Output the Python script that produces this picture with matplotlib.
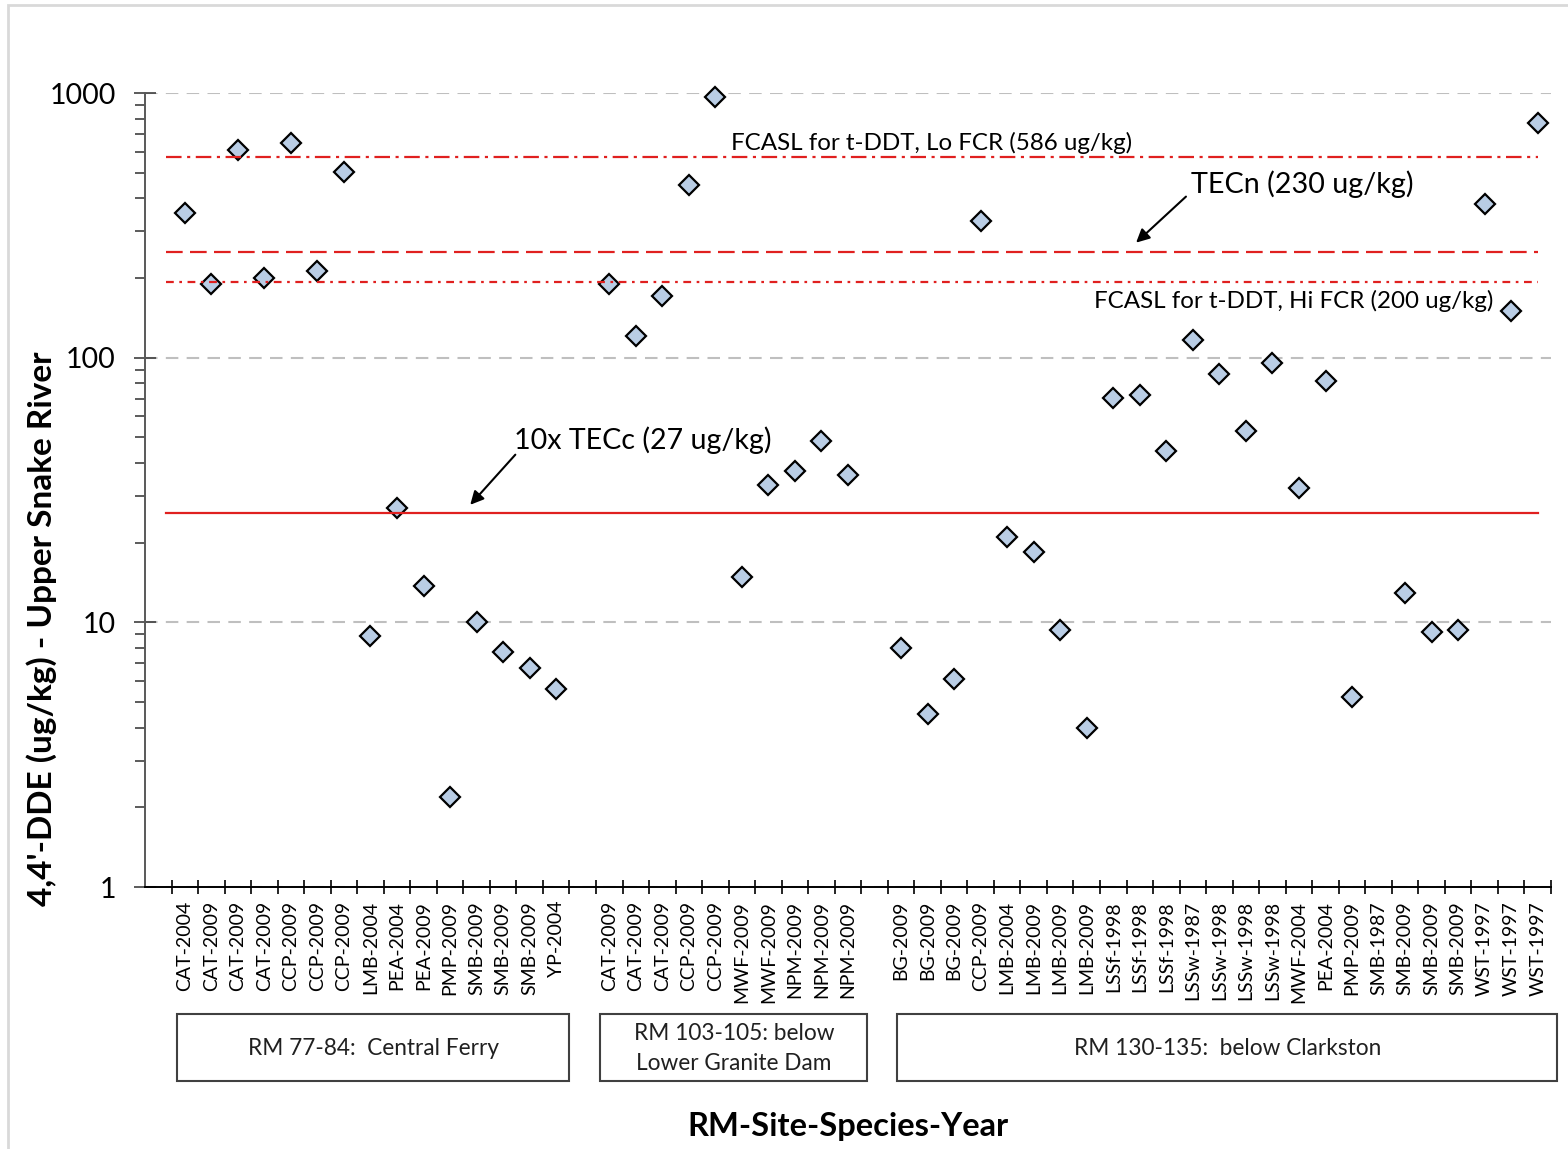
import numpy as np
import matplotlib.pyplot as plt
from matplotlib.patches import Rectangle
from matplotlib.ticker import FixedLocator, NullFormatter

plt.rcParams['font.family'] = ['Lato', 'DejaVu Sans']

# categories (blank entries are the gaps between site groups)
labels_g1 = ['CAT-2004', 'CAT-2009', 'CAT-2009', 'CAT-2009', 'CCP-2009', 'CCP-2009', 'CCP-2009',
             'LMB-2004', 'PEA-2004', 'PEA-2009', 'PMP-2009', 'SMB-2009', 'SMB-2009', 'SMB-2009', 'YP-2004']
values_g1 = [352, 190, 608, 200, 647, 212, 503, 8.9, 27, 13.7, 2.19, 10.0, 7.7, 6.7, 5.6]

labels_g2 = ['CAT-2009', 'CAT-2009', 'CAT-2009', 'CCP-2009', 'CCP-2009',
             'MWF-2009', 'MWF-2009', 'NPM-2009', 'NPM-2009', 'NPM-2009']
values_g2 = [190, 121, 171, 449, 966, 14.8, 33, 37.3, 48.4, 36]

labels_g3 = ['BG-2009', 'BG-2009', 'BG-2009', 'CCP-2009', 'LMB-2004', 'LMB-2009', 'LMB-2009', 'LMB-2009',
             'LSSf-1998', 'LSSf-1998', 'LSSf-1998', 'LSSw-1987', 'LSSw-1998', 'LSSw-1998', 'LSSw-1998',
             'MWF-2004', 'PEA-2004', 'PMP-2009', 'SMB-1987', 'SMB-2009', 'SMB-2009', 'SMB-2009',
             'WST-1997', 'WST-1997', 'WST-1997']
values_g3 = [8.0, 4.5, 6.1, 328, 21, 18.4, 9.35, 4.0, 70.4, 72.2, 44.4, 117, 86.7, 52.8, 95.4,
             32.2, 81.6, 5.2, np.nan, 12.9, 9.2, 9.35, 380, 150, 770]

groups = ['RM 77-84:  Central Ferry', 'RM 103-105: below\nLower Granite Dam', 'RM 130-135:  below Clarkston']

# screening levels as drawn
fcasl_lo = 575
tecn = 250
fcasl_hi = 193
tecc10 = 26

labels = [''] + labels_g1 + [''] + labels_g2 + [''] + labels_g3
values = [np.nan] + values_g1 + [np.nan] + values_g2 + [np.nan] + values_g3
x = np.arange(len(labels))

fig = plt.figure(figsize=(15.68, 11.49), dpi=100)
ax = fig.add_axes([145 / 1568, 262 / 1149, 1406 / 1568, 794 / 1149])

red = '#e0201f'
ax.plot(x, values, linestyle='none', marker='D', markersize=10.5, markerfacecolor='#b9cde5',
        markeredgecolor='black', markeredgewidth=1.6, zorder=3, clip_on=False)

xl, xr = 0.3, 52
ax.plot([xl, xr], [fcasl_lo, fcasl_lo], color=red, lw=1.6, ls=(0, (7, 2.5, 1.4, 2.5)), zorder=4)
ax.plot([xl, xr], [tecn, tecn], color=red, lw=1.6, ls=(0, (7.5, 3.3)), zorder=4)
ax.plot([xl, xr], [fcasl_hi, fcasl_hi], color=red, lw=1.6, ls=(0, (3.5, 2.5, 1.2, 2.5)), zorder=4)
ax.plot([xl, xr], [tecc10, tecc10], color=red, lw=1.6, zorder=4)

ax.set_yscale('log')
ax.set_ylim(1, 1000)
ax.set_xlim(-0.5, 52.5)
ax.set_yticks([1, 10, 100, 1000])
ax.set_yticklabels(['1', '10', '100', '1000'])
ax.yaxis.grid(True, which='major', color='#bfbfbf', lw=1.5, ls=(0, (6, 4)))
ax.set_axisbelow(True)

ax.set_xticks(x)
ax.set_xticklabels(labels, rotation=90, fontsize=14)
ax.xaxis.set_minor_locator(FixedLocator(np.arange(0.5, 53, 1)))
ax.xaxis.set_minor_formatter(NullFormatter())
ax.tick_params(axis='x', which='major', length=0, pad=10)
ax.tick_params(axis='x', which='minor', direction='inout', length=10, width=1.2, color='black')
ax.tick_params(axis='y', which='major', direction='inout', length=16, width=1.2, color='#404040',
               labelsize=20.5, pad=13)
ax.tick_params(axis='y', which='minor', direction='out', length=7.5, width=1.2, color='#404040')

for s in ['top', 'right']:
    ax.spines[s].set_visible(False)
ax.spines['left'].set_color('#595959')
ax.spines['left'].set_linewidth(1.4)
ax.spines['bottom'].set_color('black')
ax.spines['bottom'].set_linewidth(1.4)

ax.set_ylabel("4,4'-DDE (ug/kg) - Upper Snake River", fontsize=24, fontweight='bold')
ax.yaxis.set_label_coords(-0.0625, 0.325)
ax.set_xlabel('RM-Site-Species-Year', fontsize=23.5, fontweight='bold', va='center')
ax.xaxis.set_label_coords(0.5, -0.302)

# annotations
ax.text(21.6, 650, 'FCASL for t-DDT, Lo FCR (586 ug/kg)', fontsize=17.4, va='center', ha='left')
ax.text(35.26, 164, 'FCASL for t-DDT, Hi FCR (200 ug/kg)', fontsize=17.4, va='center', ha='left')
ax.text(38.92, 451, 'TECn (230 ug/kg)', fontsize=20.7, va='center', ha='left')
ax.text(13.42, 48.6, '10x TECc (27 ug/kg)', fontsize=20.6, va='center', ha='left')
arrow = dict(arrowstyle='-|>', color='black', lw=1.5, mutation_scale=20, shrinkA=0, shrinkB=0)
ax.annotate('', xy=(36.86, 272), xytext=(38.74, 406), arrowprops=arrow)
ax.annotate('', xy=(11.76, 27.8), xytext=(13.46, 43), arrowprops=arrow)

# group boxes under the tick labels
trans = ax.get_xaxis_transform()
boxes = [(0.7, 15.49), (16.66, 26.73), (27.86, 52.74)]
for (b0, b1), name in zip(boxes, groups):
    ax.add_patch(Rectangle((b0, -0.244), b1 - b0, 0.084, transform=trans, clip_on=False,
                           facecolor='white', edgecolor='#404040', lw=1.5))
    ax.text((b0 + b1) / 2, -0.203, name, transform=trans, ha='center', va='center',
            fontsize=16.3, linespacing=1.55, color='#202020')

# chart area border
fig.add_artist(Rectangle((8 / 1568, -0.01), 1.02, (1149 - 5) / 1149 + 0.01, transform=fig.transFigure,
                         fill=False, edgecolor='#d9d9d9', lw=2))

fig.savefig('out.png', dpi=100)
